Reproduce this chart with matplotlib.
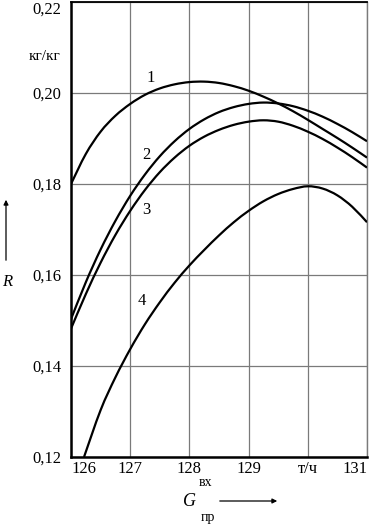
import matplotlib
matplotlib.use("Agg")
import matplotlib.pyplot as plt
from matplotlib.path import Path
from matplotlib.patches import PathPatch, FancyArrowPatch

# ---- data ----
x1 = [126.0, 126.25, 126.5, 126.75, 127.0, 127.25, 127.5, 127.75, 128.0, 128.25, 128.5,
      128.75, 129.0, 129.25, 129.5, 129.75, 130.0, 130.25, 130.5, 130.75, 131.0]
r1 = [0.1800, 0.1866, 0.1915, 0.1950, 0.1976, 0.1996, 0.2010, 0.2019, 0.2024, 0.2025, 0.2022,
      0.2015, 0.2005, 0.1992, 0.1977, 0.1960, 0.1941, 0.1921, 0.1901, 0.1880, 0.1858]

x2 = x1
r2 = [0.1503, 0.1584, 0.1656, 0.1719, 0.1774, 0.1821, 0.1861, 0.1894, 0.1921, 0.1942, 0.1958,
      0.1969, 0.1976, 0.1979, 0.1977, 0.1971, 0.1961, 0.1948, 0.1932, 0.1914, 0.1894]

x3 = x1
r3 = [0.1482, 0.1558, 0.1627, 0.1688, 0.1741, 0.1787, 0.1826, 0.1858, 0.1884, 0.1904, 0.1919,
      0.1930, 0.1937, 0.1940, 0.1937, 0.1928, 0.1915, 0.1899, 0.1880, 0.1859, 0.1836]

x4 = [126.22, 126.5, 126.75, 127.0, 127.25, 127.5, 127.75, 128.0, 128.25, 128.5, 128.75,
      129.0, 129.25, 129.5, 129.75, 130.0, 130.25, 130.5, 130.75, 131.0]
r4 = [0.1200, 0.1303, 0.1375, 0.1437, 0.1492, 0.1540, 0.1583, 0.1621, 0.1655, 0.1687, 0.1716,
      0.1741, 0.1762, 0.1778, 0.1789, 0.1795, 0.1790, 0.1775, 0.1750, 0.1716]

curve_labels = ["1", "2", "3", "4"]
label_pos = [(127.35, 0.2033), (127.27, 0.1864), (127.27, 0.1743), (127.20, 0.1543)]

xticks = [126, 127, 128, 129, 130, 131]
xticklabels = ["126", "127", "128", "129", "т/ч", "131"]
yticks = [0.12, 0.14, 0.16, 0.18, 0.20, 0.22]
yticklabels = ["0,12", "0,14", "0,16", "0,18", "0,20", "0,22"]

plt.rcParams['font.family'] = ['Liberation Serif', 'DejaVu Serif']


def smooth_path(xs, ys):
    """Catmull-Rom curve through the read points, as cubic Bezier segments."""
    pts = list(zip(xs, ys))
    n = len(pts)
    verts = [pts[0]]
    codes = [Path.MOVETO]
    for i in range(n - 1):
        p0 = pts[i - 1] if i > 0 else pts[i]
        p1 = pts[i]
        p2 = pts[i + 1]
        p3 = pts[i + 2] if i + 2 < n else pts[i + 1]
        c1 = (p1[0] + (p2[0] - p0[0]) / 6, p1[1] + (p2[1] - p0[1]) / 6)
        c2 = (p2[0] - (p3[0] - p1[0]) / 6, p2[1] - (p3[1] - p1[1]) / 6)
        verts += [c1, c2, p2]
        codes += [Path.CURVE4] * 3
    return Path(verts, codes)


W, H = 371, 528
fig = plt.figure(figsize=(W / 100, H / 100), dpi=100)
ax = fig.add_axes([71 / W, 1 - 457 / H, (367 - 71) / W, (457 - 2) / H])

ax.set_xlim(126, 131)
ax.set_ylim(0.12, 0.22)

for xs, ys in [(x1, r1), (x2, r2), (x3, r3), (x4, r4)]:
    ax.add_patch(PathPatch(smooth_path(xs, ys), fill=False, edgecolor='black',
                           lw=1.6, zorder=3, transform=ax.transData))

for lab, (lx, ly) in zip(curve_labels, label_pos):
    ax.text(lx, ly, lab, fontsize=12, ha='center', va='center', zorder=4)

ax.set_xticks(xticks)
ax.set_xticklabels(xticklabels, fontsize=12)
ax.set_yticks(yticks)
ax.set_yticklabels(yticklabels, fontsize=12)
ax.tick_params(length=0)
ax.tick_params(axis='x', pad=3)
ax.tick_params(axis='y', pad=7)
ax.get_xticklabels()[0].set_ha('left')
ax.get_xticklabels()[-1].set_ha('right')
ax.get_yticklabels()[-1].set_va('top')

ax.grid(True, color='#7a7a7a', lw=0.9)
ax.set_axisbelow(True)

for side in ['left', 'bottom']:
    ax.spines[side].set_linewidth(1.8)
ax.spines['top'].set_linewidth(1.3)
ax.spines['right'].set_color('#7a7a7a')
ax.spines['right'].set_linewidth(1.0)

# units
fig.text(45 / W, 1 - 57 / H, "кг/кг", fontsize=11, ha='center', va='center')

# y axis label with arrow
fig.text(7 / W, 1 - 282 / H, "R", fontsize=12, style='italic', ha='center', va='center')
fig.add_artist(FancyArrowPatch(
    (6 / W, 1 - 263 / H), (6 / W, 1 - 197 / H), transform=fig.transFigure,
    arrowstyle='-|>', mutation_scale=7, color='black', lw=0.9))

# x axis label with arrow
fig.text(189 / W, 1 - 501 / H, "G", fontsize=13, style='italic', ha='center', va='center')
fig.text(206 / W, 1 - 482 / H, "вх", fontsize=10, ha='center', va='center')
fig.text(208 / W, 1 - 517 / H, "пр", fontsize=10, ha='center', va='center')
fig.add_artist(FancyArrowPatch(
    (217 / W, 1 - 501 / H), (280 / W, 1 - 501 / H), transform=fig.transFigure,
    arrowstyle='-|>', mutation_scale=7, color='black', lw=0.9))

fig.savefig("out.png", dpi=100)
